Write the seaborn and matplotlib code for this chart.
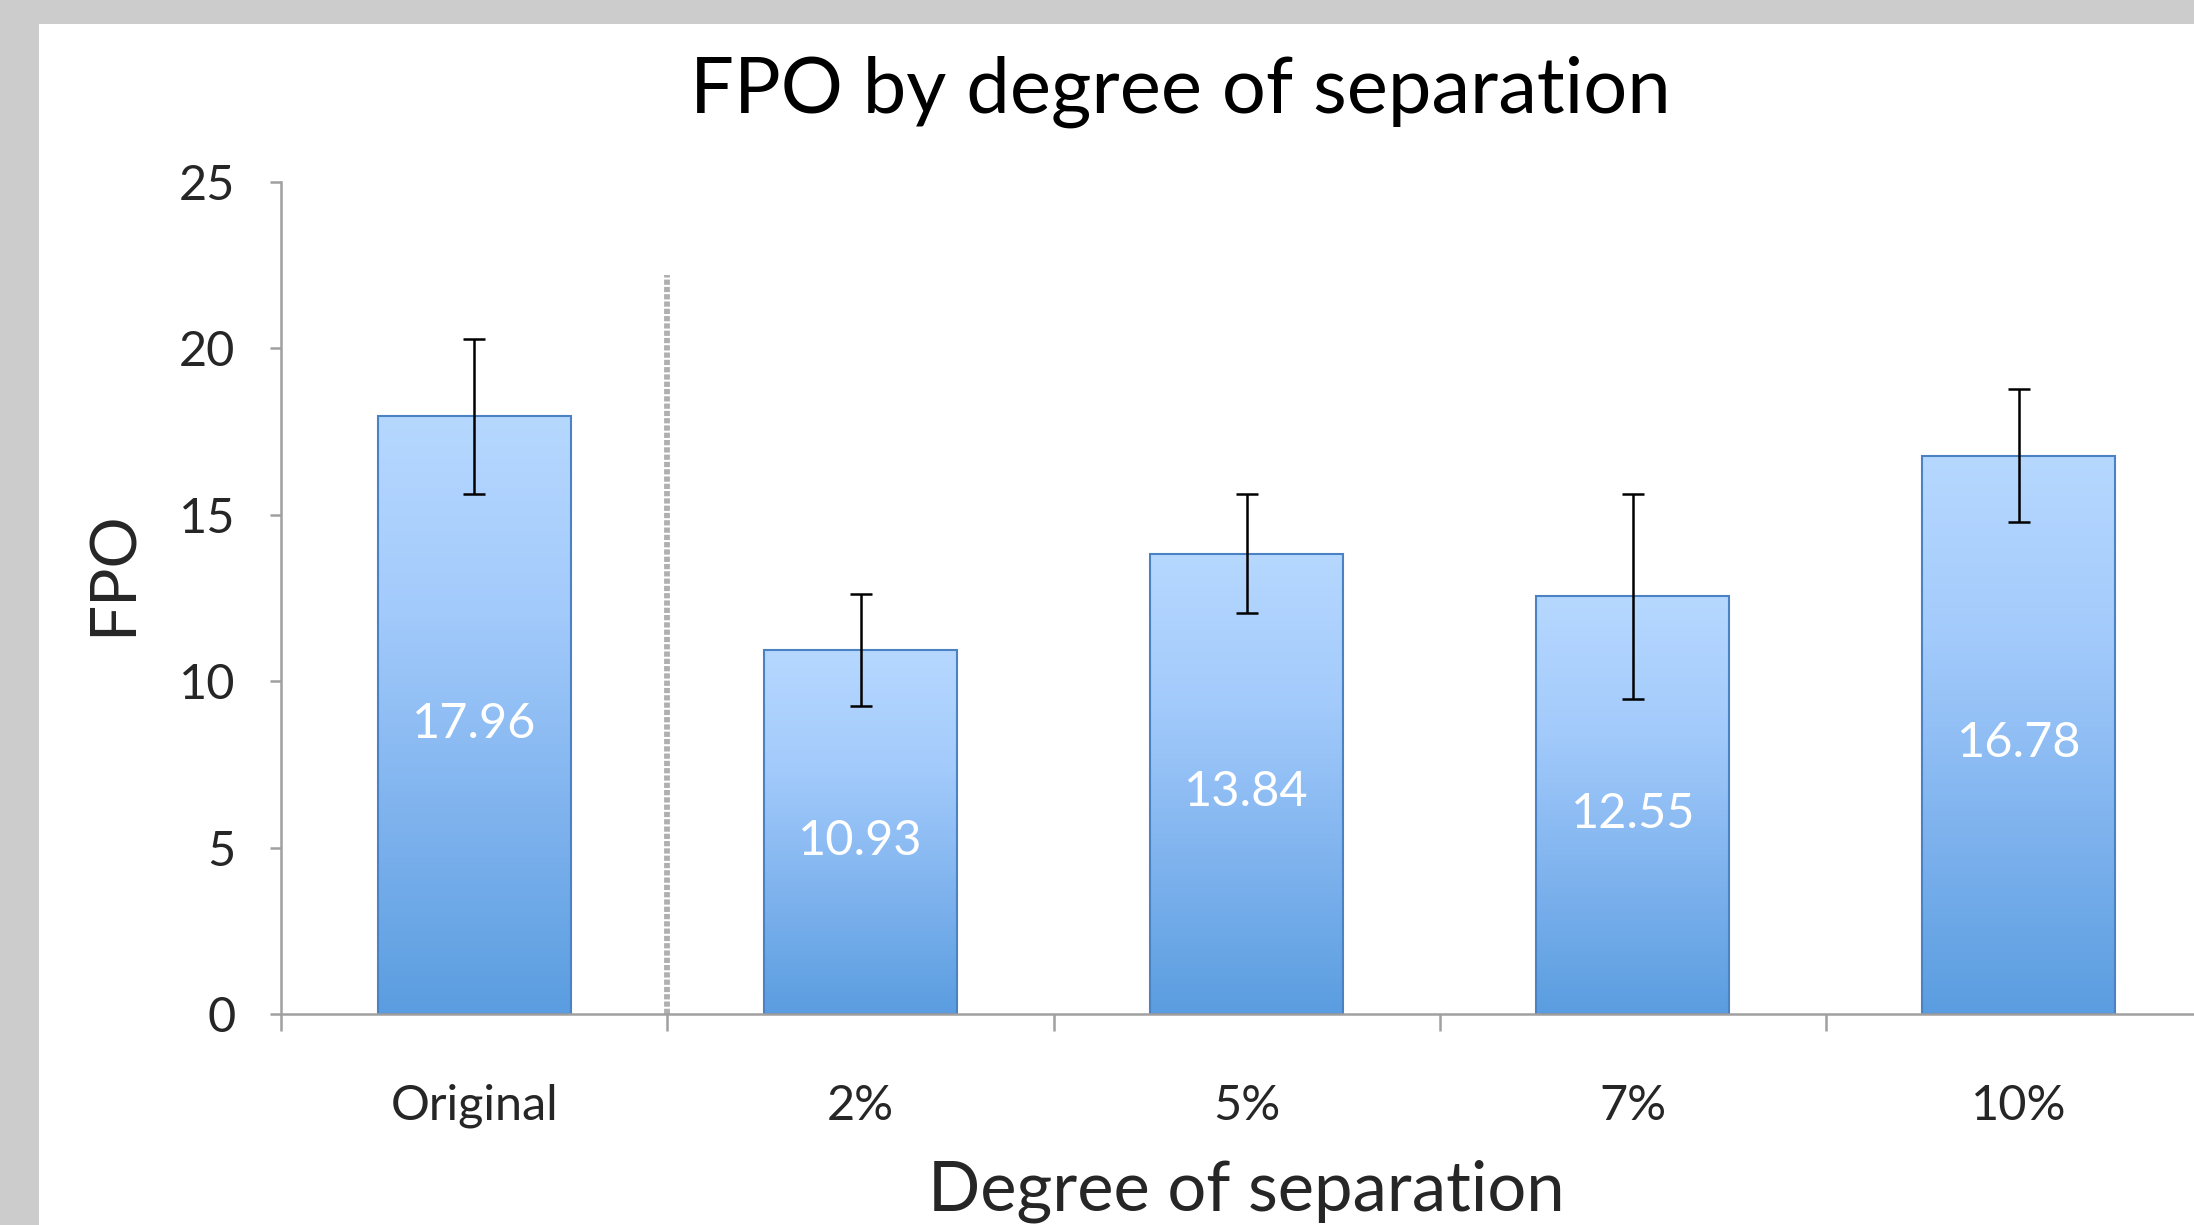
import numpy as np
import pandas as pd
import matplotlib
matplotlib.use("Agg")
import matplotlib.pyplot as plt
from matplotlib.patches import Rectangle
from matplotlib.colors import LinearSegmentedColormap
import seaborn as sns

# ---- data ----
categories = ["Original", "2%", "5%", "7%", "10%"]
fpo_values = [17.96, 10.93, 13.84, 12.55, 16.78]
fpo_errors = [2.33, 1.68, 1.79, 3.07, 2.00]
y_ticks = [0, 5, 10, 15, 20, 25]
separator_top = 22.2

sns.set_theme(style="white")
plt.rcParams["font.family"] = ["Lato", "DejaVu Sans"]

W, H, DPI = 2194, 1225, 100
fig = plt.figure(figsize=(W / DPI, H / DPI), dpi=DPI)
fig.patch.set_facecolor("#cccccc")
bg = Rectangle((39 / W, 0), 1, 1 - 24 / H, transform=fig.transFigure,
               facecolor="white", edgecolor="none", zorder=-10)
fig.patches.append(bg)

ax_left, ax_right = 281.3 / W, 2212 / W
ax_bottom, ax_top = 1 - 1014.4 / H, 1 - 181.9 / H
ax = fig.add_axes([ax_left, ax_bottom, ax_right - ax_left, ax_top - ax_bottom])
ax.set_zorder(1)
ax.set_facecolor("none")

df = pd.DataFrame({"cat": categories, "val": fpo_values})
sns.barplot(data=df, x="cat", y="val", ax=ax, width=0.5, color="#7fb2ee",
            edgecolor="#4a82c4", linewidth=1.5, errorbar=None, zorder=2)

# gradient fill clipped to each bar
cmap = LinearSegmentedColormap.from_list("bargrad", ["#5a9de0", "#7fb3ee", "#a2cafb", "#b6d8ff"])
grad = np.linspace(0, 1, 256).reshape(-1, 1)
for p in list(ax.patches):
    x0, w, h = p.get_x(), p.get_width(), p.get_height()
    im = ax.imshow(grad, extent=[x0, x0 + w, 0, h], origin="lower", aspect="auto",
                   cmap=cmap, zorder=2.1, interpolation="bilinear")
    im.set_clip_path(p)
    p.set_facecolor("none")
    p.set_zorder(2.2)

# error bars
ax.errorbar(np.arange(len(categories)), fpo_values, yerr=fpo_errors, fmt="none",
            ecolor="black", elinewidth=1.8, capsize=8, capthick=1.8, zorder=4)

# value labels
for i, v in enumerate(fpo_values):
    ax.annotate(f"{v:.2f}", (i, v / 2), xytext=(0, -6), textcoords="offset points",
                ha="center", va="center", color="white", fontsize=35, zorder=5)

# dashed separator
sep, = ax.plot([0.5, 0.5], [0, separator_top], color="#b0b0b0", lw=4.2, zorder=1.5)
sep.set_dashes((0.9, 0.35))
sep.set_dash_capstyle("butt")

ax.set_xlim(-0.5, len(categories) - 0.5)
ax.set_ylim(0, 25)
ax.set_yticks(y_ticks)
ax.set_yticklabels([str(t) for t in y_ticks], fontsize=35)
ax.set_xticks(range(len(categories)))
ax.set_xticklabels(categories, fontsize=35)
ax.set_xticks(np.arange(-0.5, len(categories), 1.0), minor=True)

for s in ["top", "right"]:
    ax.spines[s].set_visible(False)
for s in ["left", "bottom"]:
    ax.spines[s].set_color("#a0a0a0")
    ax.spines[s].set_linewidth(1.8)

ax.tick_params(axis="y", which="major", direction="out", length=8, width=1.8,
               color="#a0a0a0", pad=25, left=True)
ax.tick_params(axis="x", which="major", length=0, pad=50, bottom=True)
ax.tick_params(axis="x", which="minor", direction="out", length=12, width=1.8,
               color="#a0a0a0", bottom=True)

ax.set_xlabel("Degree of separation", fontsize=49.5, va="center")
ax.xaxis.set_label_coords(0.5, -0.213)
ax.set_ylabel("FPO", fontsize=46, va="center")
ax.yaxis.set_label_coords(-0.087, 0.53)

fig.text(1180 / W, 1 - 92 / H, "FPO by degree of separation", ha="center",
         va="center", fontsize=56, color="black")

fig.savefig("out.png", dpi=DPI, facecolor=fig.get_facecolor())
